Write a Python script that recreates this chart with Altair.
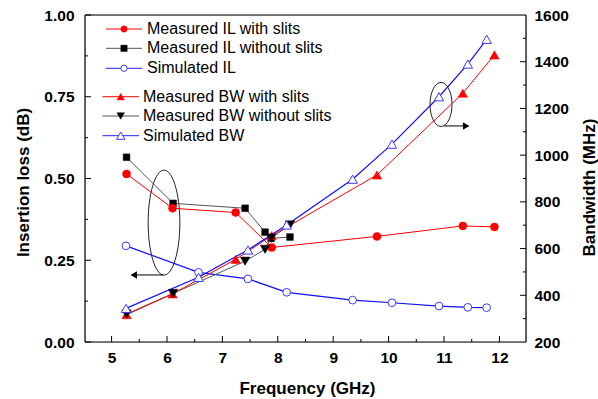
import altair as alt
import pandas as pd

# ---------------- data ----------------
f_slit = [5.27, 6.10, 7.24, 7.89, 9.79, 11.34, 11.91]
il_slit = [0.514, 0.409, 0.396, 0.289, 0.323, 0.355, 0.352]
bw_slit = [317, 406, 554, 655, 915, 1265, 1429]

f_noslit = [5.27, 6.11, 7.41, 7.77, 7.88, 8.22]
il_noslit = [0.565, 0.424, 0.409, 0.336, 0.317, 0.321]
bw_noslit = [320, 408, 546, 597, 645, 701]

f_sim = [5.26, 6.57, 7.46, 8.16, 9.35, 10.06, 10.91, 11.43, 11.77]
il_sim = [0.294, 0.213, 0.193, 0.152, 0.128, 0.120, 0.110, 0.106, 0.105]
bw_sim = [344, 477, 594, 701, 897, 1047, 1250, 1390, 1496]

x_ticks = [5, 6, 7, 8, 9, 10, 11, 12]
x_minor = [5.5, 6.5, 7.5, 8.5, 9.5, 10.5, 11.5]
yl_ticks = [0.0, 0.25, 0.5, 0.75, 1.0]
yl_minor = [0.125, 0.375, 0.625, 0.875]
yr_ticks = [200, 400, 600, 800, 1000, 1200, 1400, 1600]
yr_minor = [300, 500, 700, 900, 1100, 1300, 1500]

# annotations (ellipse centre, arrow ends)
ell_left = {"f": [5.946], "il": [0.365]}
arrow_left_f = [5.93, 5.40]
arrow_left_il = [0.205, 0.205]
ell_right = {"f": [10.946], "bw": [1217]}
arrow_right_f = [11.005, 11.40]
arrow_right_bw = [1125, 1125]

legend_labels = ["Measured IL with slits", "Measured IL without slits", "Simulated IL",
                 "Measured BW with slits", "Measured BW without slits", "Simulated BW"]
legend_colors = ["#ff0000", "#555555", "#2020ff", "#ff0000", "#555555", "#2020ff"]
legend_marker_colors = ["#ff0000", "#000000", "#3a3aff", "#ff0000", "#000000", "#3a3aff"]
legend_shapes = ["circle", "square", "circle", "triangle-up", "triangle-down", "triangle-up"]
legend_filled = [True, True, False, True, True, False]

W, H = 441, 327
FONT = "Liberation Sans"
RED = "#ff0000"
BLACKLINE = "#555555"
BLUE = "#1010ff"
BLUEMK = "#3a3aff"

xs = alt.Scale(domain=[4.52, 12.48], nice=False, zero=False)
yls = alt.Scale(domain=[0, 1], nice=False, zero=False)
yrs = alt.Scale(domain=[200, 1600], nice=False, zero=False)

df_slit = pd.DataFrame({"f": f_slit, "il": il_slit, "bw": bw_slit})
df_noslit = pd.DataFrame({"f": f_noslit, "il": il_noslit, "bw": bw_noslit})
df_sim = pd.DataFrame({"f": f_sim, "il": il_sim, "bw": bw_sim})

common = dict(ticks=False, domain=False, grid=False,
              labelFont=FONT, labelFontSize=15.5, labelFontWeight="bold", labelColor="black",
              titleFont=FONT, titleFontSize=17, titleFontWeight="bold", titleColor="black",
              titleBaseline="middle", titleAlign="center")
x_axis = alt.Axis(values=x_ticks, format="d", labelPadding=8,
                  title="Frequency (GHz)", titleX=222, titleY=46, **common)
yl_axis = alt.Axis(values=yl_ticks, format=".2f", labelPadding=11,
                   title="Insertion loss (dB)", titleX=-62, titleY=167, titleAngle=270, **common)
yr_axis = alt.Axis(values=yr_ticks, format="d", orient="right", labelPadding=8,
                   title="Bandwidth (MHz)", titleX=63, titleY=172, titleAngle=270, **common)

X = alt.X("f:Q", scale=xs, axis=x_axis)
YL = alt.Y("il:Q", scale=yls, axis=yl_axis)
YR = alt.Y("bw:Q", scale=yrs, axis=yr_axis)


def line(df, y, color, width=1.0):
    return alt.Chart(df).mark_line(color=color, strokeWidth=width).encode(x=X, y=y)


def pts(df, y, shape, color, size, filled=True):
    if filled:
        m = alt.Chart(df).mark_point(shape=shape, filled=True, fill=color, stroke=color,
                                     strokeWidth=0.5, size=size, opacity=1)
    else:
        m = alt.Chart(df).mark_point(shape=shape, filled=True, fill="white", stroke=color,
                                     strokeWidth=1, size=size, opacity=1)
    return m.encode(x=X, y=y)


one = pd.DataFrame({"k": [0]})

# ---------- left (IL) group ----------
xt_major = alt.Chart(pd.DataFrame({"f": x_ticks})).mark_rule(color="black", strokeWidth=1).encode(
    x=X, y=alt.value(H), y2=alt.value(H - 6))
xt_minor = alt.Chart(pd.DataFrame({"f": x_minor})).mark_rule(color="black", strokeWidth=1).encode(
    x=X, y=alt.value(H), y2=alt.value(H - 3))
ylt_major = alt.Chart(pd.DataFrame({"il": yl_ticks})).mark_rule(color="black", strokeWidth=1).encode(
    y=YL, x=alt.value(0), x2=alt.value(6))
ylt_minor = alt.Chart(pd.DataFrame({"il": yl_minor})).mark_rule(color="black", strokeWidth=1).encode(
    y=YL, x=alt.value(0), x2=alt.value(3))

k = 0.5523


def ellipse_path(a):
    return (f"M0,-1 C{a*k:.4f},-1 {a:.4f},{-k} {a:.4f},0 C{a:.4f},{k} {a*k:.4f},1 0,1 "
            f"C{-a*k:.4f},1 {-a:.4f},{k} {-a:.4f},0 C{-a:.4f},{-k} {-a*k:.4f},-1 0,-1 Z")


ell_l = alt.Chart(pd.DataFrame(ell_left)).mark_point(
    shape=ellipse_path(0.302), size=105 * 105, filled=False, stroke="#222222",
    strokeWidth=1, opacity=1).encode(x=X, y=YL)
arr_l = alt.Chart(pd.DataFrame({"f": arrow_left_f, "il": arrow_left_il})).mark_line(
    color="black", strokeWidth=1).encode(x=X, y=YL)
arr_l_head = alt.Chart(pd.DataFrame({"f": [arrow_left_f[1]], "il": [arrow_left_il[1]]})).mark_point(
    shape="triangle-left", filled=True, color="black", size=55, opacity=1).encode(x=X, y=YL)

left = alt.layer(
    xt_major, xt_minor, ylt_major, ylt_minor,
    ell_l, arr_l, arr_l_head,
    line(df_sim, YL, BLUE, 1.2),
    line(df_noslit, YL, BLACKLINE, 1.0),
    line(df_slit, YL, RED, 1.0),
    pts(df_sim, YL, "circle", BLUEMK, 60, filled=False),
    pts(df_noslit, YL, "square", "black", 45),
    pts(df_slit, YL, "circle", RED, 64),
)

# ---------- right (BW) group ----------
yrt_minor = alt.Chart(pd.DataFrame({"bw": yr_minor})).mark_rule(
    color="black", strokeWidth=1).encode(y=YR, x=alt.value(W), x2=alt.value(W - 3))
yrt_major = alt.Chart(pd.DataFrame({"bw": yr_ticks[1:-1]})).mark_rule(
    color="black", strokeWidth=1).encode(y=YR, x=alt.value(W), x2=alt.value(W - 6))

ell_r = alt.Chart(pd.DataFrame(ell_right)).mark_point(
    shape=ellipse_path(0.5), size=44 * 44, filled=False, stroke="#222222",
    strokeWidth=1, opacity=1).encode(x=X, y=YR)
arr_r = alt.Chart(pd.DataFrame({"f": arrow_right_f, "bw": arrow_right_bw})).mark_line(
    color="black", strokeWidth=1).encode(x=X, y=YR)
arr_r_head = alt.Chart(pd.DataFrame({"f": [arrow_right_f[1]], "bw": [arrow_right_bw[1]]})).mark_point(
    shape="triangle-right", filled=True, color="black", size=55, opacity=1).encode(x=X, y=YR)

right = alt.layer(
    yrt_minor, yrt_major,
    ell_r, arr_r, arr_r_head,
    line(df_noslit, YR, BLACKLINE, 1.0),
    line(df_slit, YR, RED, 1.0),
    line(df_sim, YR, BLUE, 1.2),
    pts(df_slit, YR, "triangle-up", RED, 90),
    pts(df_noslit, YR, "triangle-down", "black", 90),
    pts(df_sim, YR, "triangle-up", BLUEMK, 90, filled=False),
)

# ---------- frame ----------
frame = [
    alt.Chart(one).mark_rule(color="black", strokeWidth=1.2).encode(
        x=alt.value(0), x2=alt.value(W), y=alt.value(0)),
    alt.Chart(one).mark_rule(color="black", strokeWidth=1.2).encode(
        x=alt.value(0), x2=alt.value(W), y=alt.value(H)),
    alt.Chart(one).mark_rule(color="black", strokeWidth=1.2).encode(
        x=alt.value(0), y=alt.value(0), y2=alt.value(H)),
    alt.Chart(one).mark_rule(color="black", strokeWidth=1.2).encode(
        x=alt.value(W), y=alt.value(0), y2=alt.value(H)),
]

# ---------- legend ----------
legend_layers = []
row_y = [14, 33.3, 53.3, 81.7, 101, 120.7]
for i, lab in enumerate(legend_labels):
    if i < 3:
        x1, x2, xm, xt = 21, 57, 39, 62
    else:
        x1, x2, xm, xt = 17.5, 54, 35.7, 58
    y = row_y[i]
    legend_layers.append(alt.Chart(one).mark_rule(color=legend_colors[i], strokeWidth=1).encode(
        x=alt.value(x1), x2=alt.value(x2), y=alt.value(y)))
    if legend_filled[i]:
        mk = alt.Chart(one).mark_point(shape=legend_shapes[i], filled=True,
                                       fill=legend_marker_colors[i], stroke=legend_marker_colors[i],
                                       strokeWidth=0.5, size=55 if i >= 3 else 40, opacity=1)
    else:
        mk = alt.Chart(one).mark_point(shape=legend_shapes[i], filled=True, fill="white",
                                       stroke=legend_marker_colors[i], strokeWidth=1,
                                       size=70 if i >= 3 else 40, opacity=1)
    legend_layers.append(mk.encode(x=alt.value(xm), y=alt.value(y)))
    legend_layers.append(alt.Chart(one).mark_text(
        text=lab, align="left", baseline="middle", font=FONT, fontSize=16, color="black").encode(
        x=alt.value(xt), y=alt.value(y)))

chart = alt.layer(left, right, *frame, *legend_layers).resolve_scale(y="independent").properties(
    width=W, height=H,
    autosize=alt.AutoSizeParams(type="none"),
    padding={"left": 85, "top": 15, "right": 598 - 85 - W, "bottom": 399 - 15 - H},
).configure_view(stroke=None).configure(background="white")

chart.save("out.html", embed_options={"renderer": "svg", "actions": False})
